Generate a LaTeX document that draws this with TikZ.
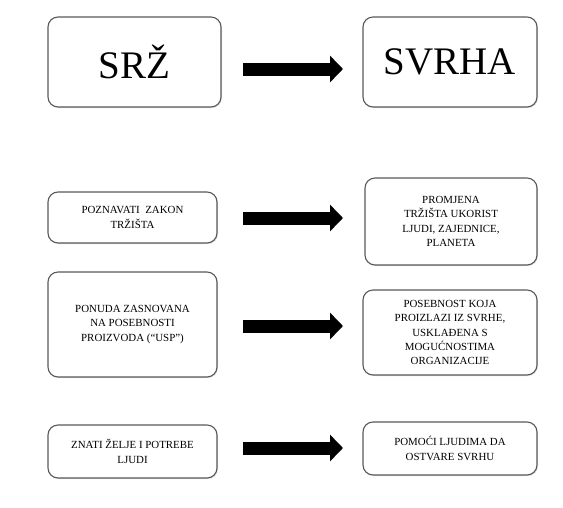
\documentclass[tikz,border=0pt]{standalone}
\usepackage{fontspec}
\setmainfont{Liberation Serif}
\usepackage{tikz}
\usetikzlibrary{arrows.meta,shadows}

\tikzset{
  box/.style={draw=black!65,line width=1.1pt,rounded corners=10pt,fill=white,
    align=center,inner sep=2pt,outer sep=0pt,
    drop shadow={opacity=0.25,shadow xshift=1pt,shadow yshift=-1pt},
    font=\fontsize{10.9}{14.4}\selectfont},
  bigbox/.style={box,font=\fontsize{39}{44}\selectfont},
  bigarrow/.style={line width=13pt,-{Triangle[length=13pt,width=26pt]}},
}

\begin{document}
\begin{tikzpicture}[x=1pt,y=-1pt]
  \useasboundingbox (0,0) rectangle (563,507);
  % heading row
  \node[bigbox,minimum width=173pt,minimum height=90pt] (srz) at (134.5,62) {SRŽ};
  \node[bigbox,minimum width=174pt,minimum height=90pt] (svrha) at (450,62) {SVRHA};
  % rows
  \node[box,minimum width=169pt,minimum height=51pt] (trziste) at (132.5,217.5)
    {POZNAVATI~ ZAKON\\TRŽIŠTA};
  \node[box,minimum width=172pt,minimum height=87pt] (promjena) at (451,221.5)
    {PROMJENA\\TRŽIŠTA UKORIST\\LJUDI, ZAJEDNICE,\\PLANETA};
  \node[box,minimum width=169pt,minimum height=105pt] (ponuda) at (132.5,324.5)
    {PONUDA ZASNOVANA\\NA POSEBNOSTI\\PROIZVODA (“USP”)};
  \node[box,minimum width=174pt,minimum height=85pt] (posebnost) at (450,332.5)
    {POSEBNOST KOJA\\PROIZLAZI IZ SVRHE,\\USKLAĐENA S\\MOGUĆNOSTIMA\\ORGANIZACIJE};
  \node[box,minimum width=169pt,minimum height=53pt] (zelje) at (132.5,451.5)
    {ZNATI ŽELJE I POTREBE\\LJUDI};
  \node[box,minimum width=174pt,minimum height=53pt] (pomoc) at (450,448.5)
    {POMOĆI LJUDIMA DA\\OSTVARE SVRHU};
  % arrows
  \draw[bigarrow,shorten <=22pt,shorten >=20pt]
    ([yshift=-7pt]srz.east) -- ([yshift=-7pt]srz.east -| svrha.west);
  \draw[bigarrow,shorten <=26pt,shorten >=22pt]
    ([yshift=-0.5pt]trziste.east) -- ([yshift=-0.5pt]trziste.east -| promjena.west);
  \draw[bigarrow,shorten <=26pt,shorten >=20pt]
    ([yshift=-1.5pt]ponuda.east) -- ([yshift=-1.5pt]ponuda.east -| posebnost.west);
  \draw[bigarrow,shorten <=26pt,shorten >=20pt]
    ([yshift=3.5pt]zelje.east) -- ([yshift=3.5pt]zelje.east -| pomoc.west);
\end{tikzpicture}
\end{document}
